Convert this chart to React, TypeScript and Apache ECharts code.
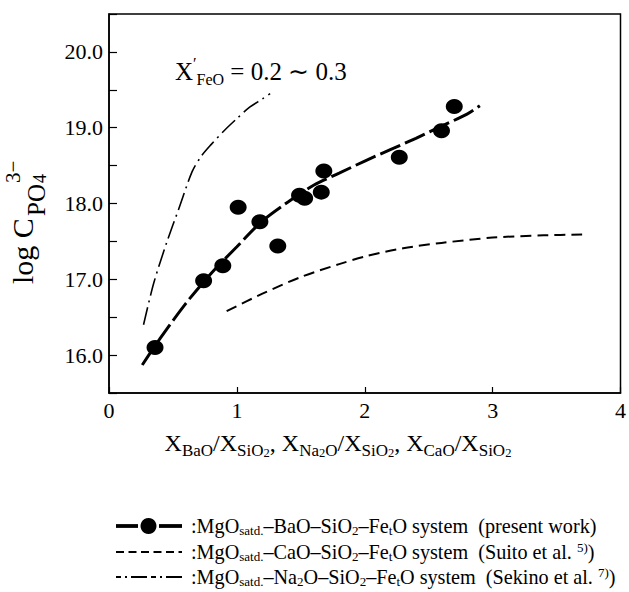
import React, { useEffect, useRef } from 'react';
import * as echarts from 'echarts';

const FONT = 'Liberation Serif, Times New Roman, serif';

// Measured points: MgO satd.-BaO-SiO2-FetO system (present work)
const baoRatio = [0.36, 0.74, 0.89, 1.01, 1.18, 1.32, 1.49, 1.53, 1.66, 1.68, 2.27, 2.6, 2.7];
const baoLogC = [16.1, 16.98, 17.18, 17.95, 17.76, 17.44, 18.11, 18.07, 18.15, 18.43, 18.61, 18.96, 19.28];

// Fitted curve through the BaO points
const baoFitRatio = [0.26, 0.4, 0.6, 0.8, 1.0, 1.2, 1.4, 1.6, 1.8, 2.0, 2.2, 2.4, 2.6, 2.8, 2.9];
const baoFitLogC = [15.87, 16.22, 16.68, 17.08, 17.43, 17.77, 18.02, 18.24, 18.4, 18.56, 18.71, 18.86, 19.02, 19.18, 19.29];

// MgO satd.-CaO-SiO2-FetO system (Suito et al.)
const caoRatio = [0.92, 1.2, 1.5, 1.8, 2.0, 2.3, 2.6, 3.0, 3.4, 3.7];
const caoLogC = [16.58, 16.81, 17.03, 17.2, 17.3, 17.41, 17.48, 17.55, 17.58, 17.59];

// MgO satd.-Na2O-SiO2-FetO system (Sekino et al.)
const na2oRatio = [0.27, 0.35, 0.45, 0.55, 0.65, 0.72, 0.8, 0.9, 1.0, 1.1, 1.2, 1.26];
const na2oLogC = [16.4, 16.95, 17.48, 17.95, 18.42, 18.62, 18.78, 18.96, 19.12, 19.27, 19.38, 19.45];

const xRange = [0, 4];
const yRange = [15.5, 20.5];

const legendTexts = [
  '{m|:MgO}{s|satd.}{m|–BaO–SiO}{s|2}{m|–Fe}{s|t}{m|O system  (present work)}',
  '{m|:MgO}{s|satd.}{m|–CaO–SiO}{s|2}{m|–Fe}{s|t}{m|O system  (Suito et al. }{u|5)}{m|)}',
  '{m|:MgO}{s|satd.}{m|–Na}{s|2}{m|O–SiO}{s|2}{m|–Fe}{s|t}{m|O system  (Sekino et al. }{u|7)}{m|)}',
];

const pairs = (xs: number[], ys: number[]) => xs.map((x, i) => [x, ys[i]]);

function makeRich(main: number, sub: number, lh: number, subsub?: number) {
  const base = { fontFamily: FONT, fill: '#000' };
  return {
    m: { ...base, fontSize: main, lineHeight: lh, verticalAlign: 'middle' },
    s: { ...base, fontSize: sub, lineHeight: sub, verticalAlign: 'bottom' },
    u: { ...base, fontSize: sub, lineHeight: sub, verticalAlign: 'top' },
    t: { ...base, fontSize: subsub || sub, lineHeight: subsub || sub, verticalAlign: 'bottom' },
  };
}

export default function App() {
  const ref = useRef<HTMLDivElement>(null);
  useEffect(() => {
    if (!ref.current) return;
    const chart = echarts.init(ref.current, undefined, { renderer: 'svg' });
    const legendX1 = 116;
    const legendX2 = 182;
    const rowY = [526, 552, 577];
    const txt = (text: string, x: number, y: number, size: number) => ({
      type: 'text',
      x,
      y,
      style: { text, fontFamily: FONT, fontSize: size, fill: '#000', verticalAlign: 'middle', align: 'left' },
    });
    const option: any = {
      animation: false,
      grid: {
        left: 109,
        top: 14,
        width: 515,
        height: 379,
        show: true,
        borderColor: '#000',
        borderWidth: 1.5,
        backgroundColor: 'transparent',
      },
      xAxis: {
        type: 'value',
        min: xRange[0],
        max: xRange[1],
        interval: 1,
        axisLine: { show: true, lineStyle: { color: '#000', width: 1.5 } },
        axisTick: { show: true, inside: true, length: 6, lineStyle: { color: '#000', width: 1.2 } },
        axisLabel: { color: '#000', fontFamily: FONT, fontSize: 22, margin: 6 },
        splitLine: { show: false },
      },
      yAxis: {
        type: 'value',
        min: yRange[0],
        max: yRange[1],
        interval: 0.5,
        axisLine: { show: true, lineStyle: { color: '#000', width: 1.5 } },
        axisTick: { show: true, inside: true, length: 8, lineStyle: { color: '#000', width: 1.2 } },
        axisLabel: {
          color: '#000',
          fontFamily: FONT,
          fontSize: 22,
          margin: 6,
          formatter: (v: number) => (Math.abs(v - Math.round(v)) < 1e-6 ? v.toFixed(1) : ''),
        },
        splitLine: { show: false },
      },
      series: [
        {
          name: 'BaO fit',
          type: 'line',
          data: pairs(baoFitRatio, baoFitLogC),
          smooth: 0.3,
          showSymbol: false,
          symbol: 'none',
          lineStyle: { color: '#000', width: 3, type: [22, 5] },
          z: 2,
        },
        {
          name: 'BaO',
          type: 'scatter',
          data: pairs(baoRatio, baoLogC),
          symbol: 'circle',
          symbolSize: [17, 15],
          itemStyle: { color: '#000', opacity: 1 },
          z: 3,
        },
        {
          name: 'CaO',
          type: 'line',
          data: pairs(caoRatio, caoLogC),
          smooth: 0.3,
          symbol: 'none',
          lineStyle: { color: '#000', width: 2, type: [11, 6] },
        },
        {
          name: 'Na2O',
          type: 'line',
          data: pairs(na2oRatio, na2oLogC),
          smooth: 0.3,
          symbol: 'none',
          lineStyle: { color: '#000', width: 1.6, type: [18, 5, 2, 5] },
        },
      ],
      graphic: [
        // annotation
        {
          type: 'text',
          x: 175,
          y: 71,
          style: {
            text: '{m|X}{u|′}{s|FeO}{m| = 0.2 ∼ 0.3}',
            rich: makeRich(25, 16, 32),
            verticalAlign: 'middle',
            align: 'left',
          },
        },
        // x-axis title
        {
          type: 'text',
          x: 338,
          y: 443,
          style: {
            text: '{m|X}{s|BaO}{m|/X}{s|SiO}{t|2}{m|, X}{s|Na}{t|2}{s|O}{m|/X}{s|SiO}{t|2}{m|, X}{s|CaO}{m|/X}{s|SiO}{t|2}',
            rich: makeRich(24, 17, 32, 12.5),
            verticalAlign: 'middle',
            align: 'center',
          },
        },
        // y-axis title (rotated)
        {
          type: 'group',
          x: 22,
          y: 284,
          rotation: Math.PI / 2,
          children: [
            txt('log C', 0, 0, 30),
            txt('PO', 68, 14, 25),
            txt('4', 101, 18, 18),
            txt('3−', 101, -9, 21),
          ],
        },
        // legend row 1
        { type: 'line', shape: { x1: legendX1, y1: rowY[0], x2: 138, y2: rowY[0] }, style: { stroke: '#000', lineWidth: 3.8 } },
        { type: 'circle', shape: { cx: 148.5, cy: rowY[0], r: 8 }, style: { fill: '#000' } },
        { type: 'line', shape: { x1: 159, y1: rowY[0], x2: legendX2, y2: rowY[0] }, style: { stroke: '#000', lineWidth: 3.8 } },
        // legend row 2
        { type: 'line', shape: { x1: legendX1, y1: rowY[1], x2: legendX2, y2: rowY[1] }, style: { stroke: '#000', lineWidth: 1.8, lineDash: [8, 4.5] } },
        // legend row 3
        { type: 'line', shape: { x1: legendX1, y1: rowY[2], x2: legendX2, y2: rowY[2] }, style: { stroke: '#000', lineWidth: 1.8, lineDash: [5, 4, 2, 4, 16, 4] } },
        ...legendTexts.map((t, i) => ({
          type: 'text',
          x: 191,
          y: rowY[i],
          style: { text: t, rich: makeRich(20.2, 13, 22), verticalAlign: 'middle', align: 'left' },
        })),
      ],
    };
    chart.setOption(option);
    return () => chart.dispose();
  }, []);
  return <div ref={ref} style={{ position: 'absolute', left: 0, top: 0, width: 629, height: 592 }} />;
}
